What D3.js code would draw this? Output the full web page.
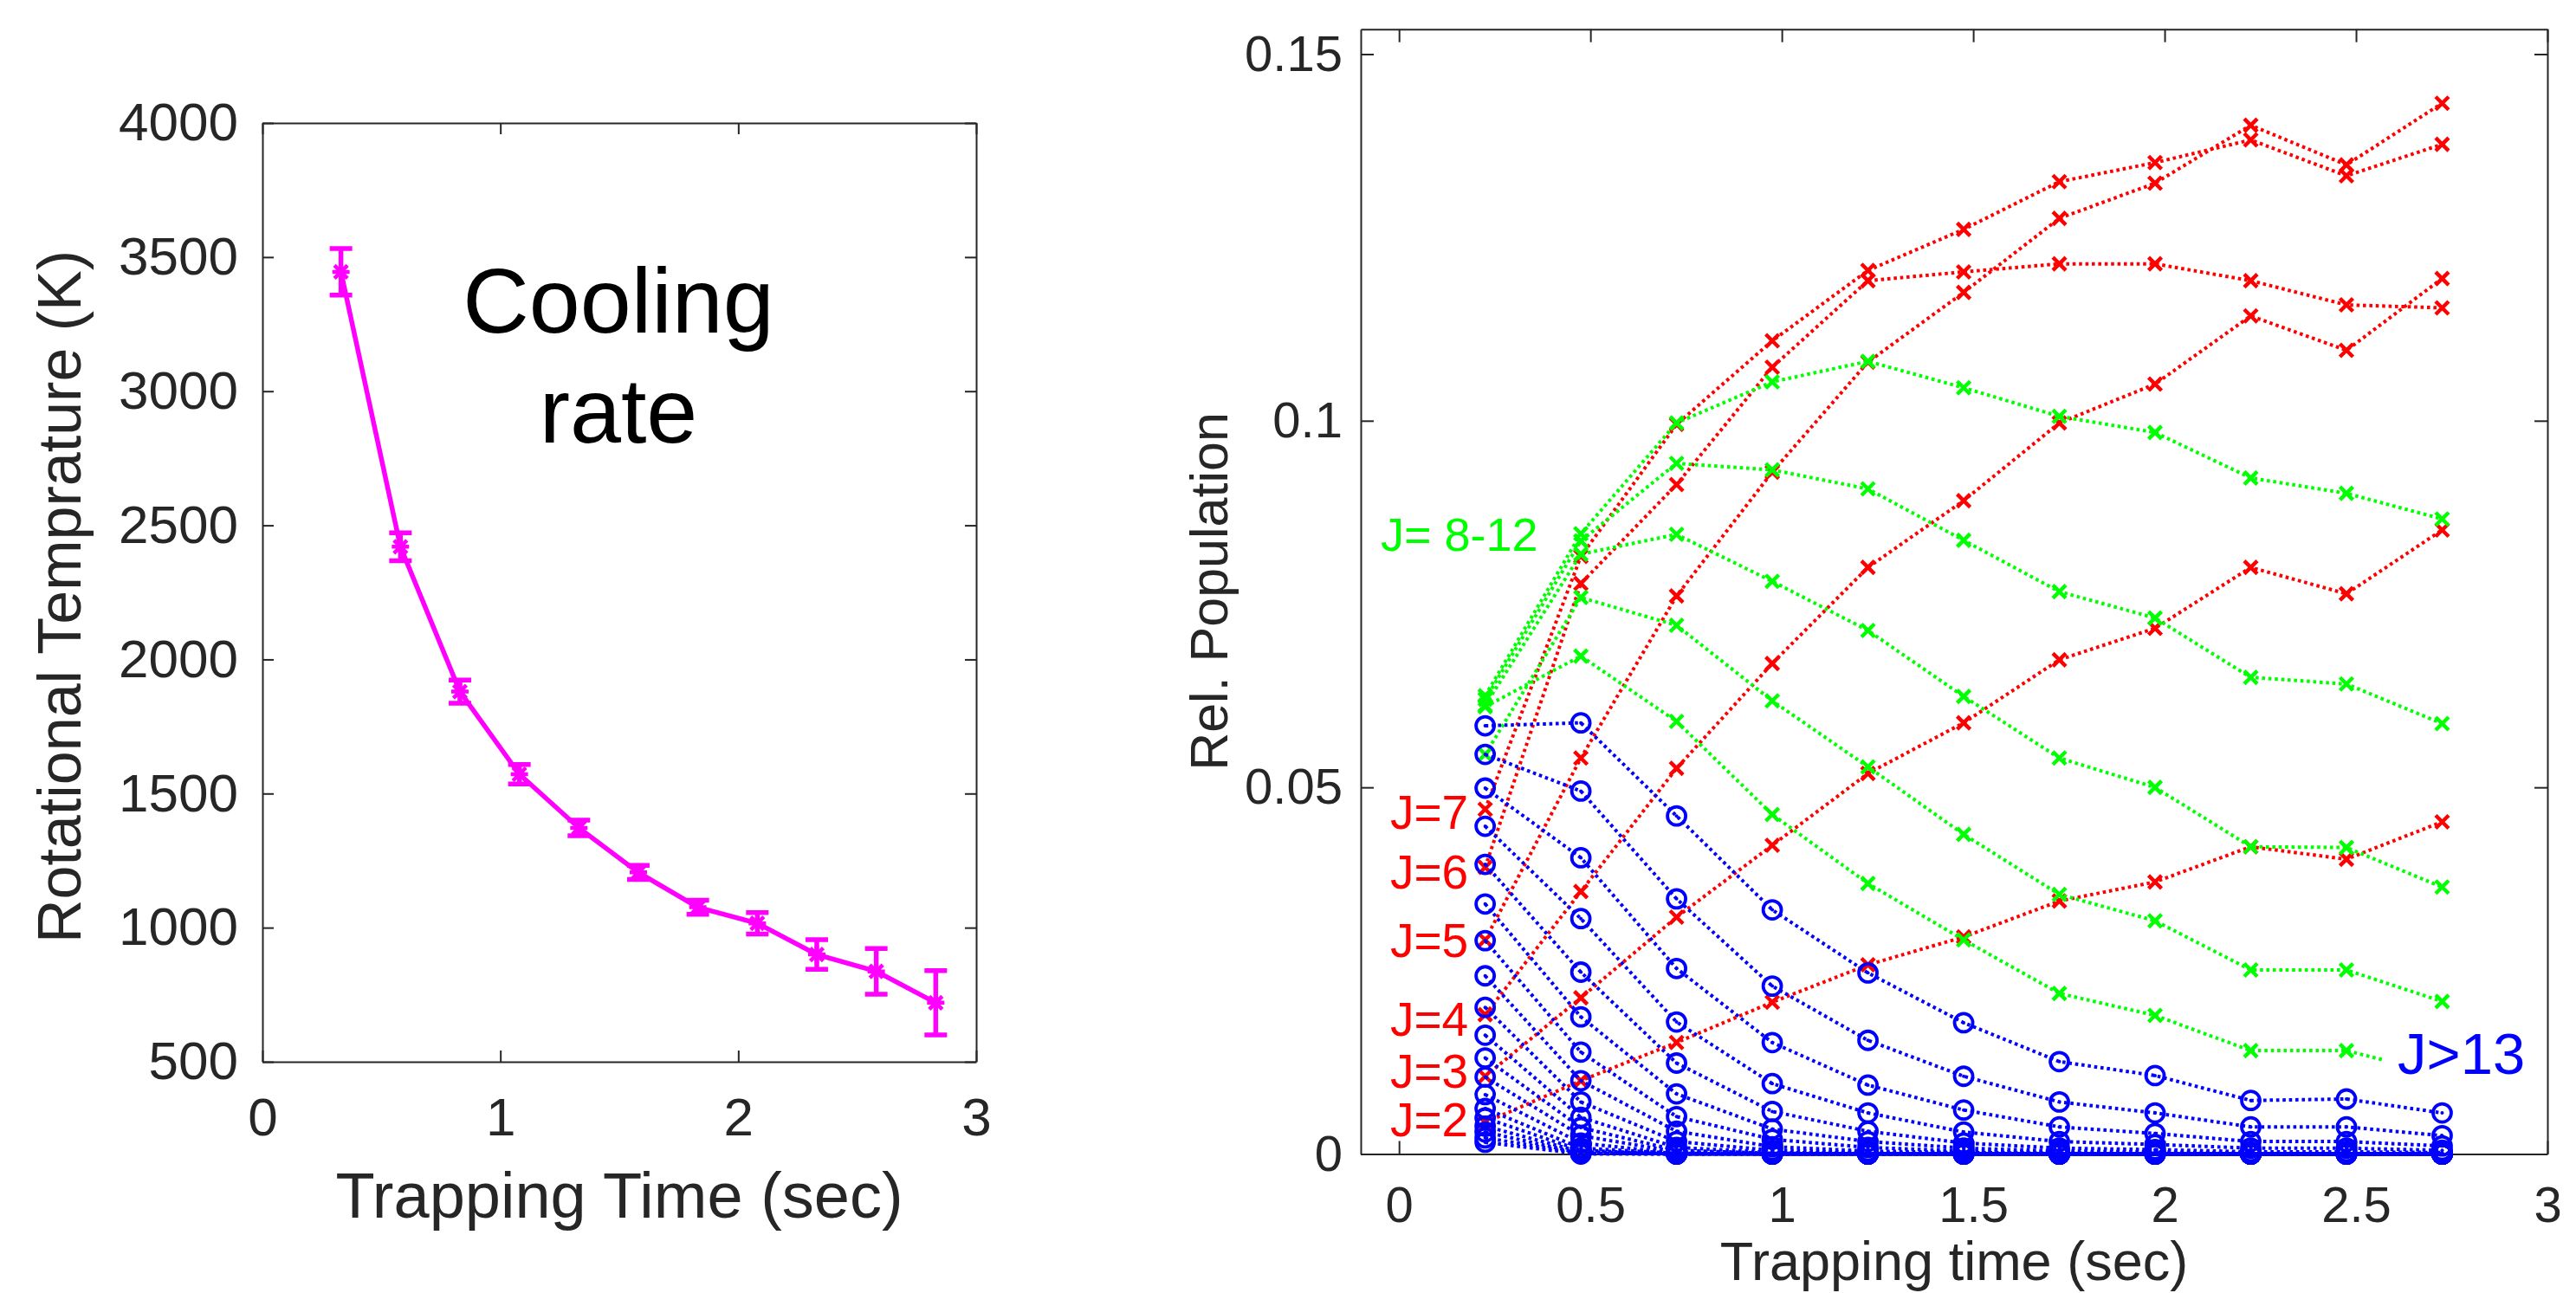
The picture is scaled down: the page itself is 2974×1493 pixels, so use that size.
<!doctype html>
<html>
    <head>
        <script src="https://d3js.org/d3.v7.min.js"></script>
        <style>
            body,
            html {
                margin: 0;
                padding: 0;
                overflow: hidden;
                background: #fff;
            }
        </style>
    </head>
    <body>
        <script>
            // ---- left panel: cooling rate ----
            const tempTime = [0.33, 0.58, 0.83, 1.08, 1.33, 1.58, 1.83, 2.08, 2.33, 2.58, 2.83];
            const tempValues = [3445, 2420, 1880, 1572, 1372, 1206, 1076, 1016, 900, 837, 720];
            const tempErrors = [87, 52, 43, 36, 29, 26, 26, 40, 55, 85, 120];
            const tempXTicks = [0, 1, 2, 3];
            const tempYTicks = [500, 1000, 1500, 2000, 2500, 3000, 3500, 4000];

            // ---- right panel: relative population ----
            const popTime = [0.225, 0.475, 0.725, 0.975, 1.225, 1.475, 1.725, 1.975, 2.225, 2.475, 2.725];
            const popXTicks = [0, 0.5, 1, 1.5, 2, 2.5, 3];
            const popYTicks = [0, 0.05, 0.1, 0.15];

            // red: J=2 ... J=7
            const redLabels = ["J=2", "J=3", "J=4", "J=5", "J=6", "J=7"];
            const redSeries = [
                [0.0043, 0.0100, 0.0152, 0.0207, 0.0258, 0.0296, 0.0345, 0.0371, 0.0419, 0.0402, 0.0453],
                [0.0106, 0.0213, 0.0323, 0.0421, 0.0519, 0.0588, 0.0674, 0.0717, 0.0800, 0.0764, 0.0851],
                [0.0190, 0.0358, 0.0526, 0.0669, 0.0800, 0.0891, 0.0997, 0.1050, 0.1143, 0.1096, 0.1194],
                [0.0292, 0.0540, 0.0761, 0.0930, 0.1080, 0.1175, 0.1276, 0.1324, 0.1403, 0.1349, 0.1433],
                [0.0391, 0.0778, 0.0913, 0.1073, 0.1191, 0.1203, 0.1214, 0.1214, 0.1191, 0.1158, 0.1154],
                [0.0470, 0.0815, 0.0995, 0.1109, 0.1205, 0.1261, 0.1326, 0.1352, 0.1383, 0.1334, 0.1377],
            ];
            // green: J=8 ... J=12
            const greenSeries = [
                [0.0625, 0.0846, 0.0997, 0.1053, 0.1081, 0.1045, 0.1006, 0.0984, 0.0922, 0.0901, 0.0866],
                [0.0620, 0.0836, 0.0942, 0.0933, 0.0907, 0.0837, 0.0767, 0.0731, 0.0650, 0.0641, 0.0587],
                [0.0612, 0.0818, 0.0845, 0.0781, 0.0714, 0.0624, 0.0540, 0.0500, 0.0419, 0.0418, 0.0364],
                [0.0545, 0.0759, 0.0721, 0.0618, 0.0528, 0.0436, 0.0354, 0.0318, 0.0251, 0.0251, 0.0208],
                [0.0610, 0.0679, 0.0590, 0.0463, 0.0369, 0.0292, 0.0219, 0.0189, 0.0141, 0.0141, 0.0108],
            ];
            // blue: J>13
            const blueSeries = [
                [0.0584, 0.0588, 0.0461, 0.0333, 0.0247, 0.0179, 0.0126, 0.0107, 0.0073, 0.0075, 0.0056],
                [0.0545, 0.0495, 0.0348, 0.0229, 0.0155, 0.0106, 0.0071, 0.0056, 0.0037, 0.0037, 0.0025],
                [0.0499, 0.0404, 0.0253, 0.0152, 0.0094, 0.0060, 0.0037, 0.0028, 0.0017, 0.0017, 0.0011],
                [0.0447, 0.0321, 0.0180, 0.0096, 0.0056, 0.0030, 0.0017, 0.0013, 0.0008, 0.0008, 0.0005],
                [0.0395, 0.0248, 0.0124, 0.0058, 0.0031, 0.0015, 0.0008, 0.0006, 0.0003, 0.0003, 0.0002],
                [0.0341, 0.0187, 0.0082, 0.0034, 0.0017, 0.0008, 0.0004, 0.0003, 0.0001, 0.0001, 0.0001],
                [0.0291, 0.0139, 0.0051, 0.0020, 0.0009, 0.0004, 0.0002, 0.0001, 0.0000, 0.0000, 0.0000],
                [0.0243, 0.0100, 0.0031, 0.0010, 0.0004, 0.0002, 0.0001, 0.0000, 0.0000, 0.0000, 0.0000],
                [0.0200, 0.0071, 0.0017, 0.0005, 0.0002, 0.0001, 0.0000, 0.0000, 0.0000, 0.0000, 0.0000],
                [0.0162, 0.0050, 0.0009, 0.0002, 0.0001, 0.0000, 0.0000, 0.0000, 0.0000, 0.0000, 0.0000],
                [0.0131, 0.0036, 0.0005, 0.0001, 0.0000, 0.0000, 0.0000, 0.0000, 0.0000, 0.0000, 0.0000],
                [0.0105, 0.0025, 0.0003, 0.0000, 0.0000, 0.0000, 0.0000, 0.0000, 0.0000, 0.0000, 0.0000],
                [0.0081, 0.0015, 0.0001, 0.0000, 0.0000, 0.0000, 0.0000, 0.0000, 0.0000, 0.0000, 0.0000],
                [0.0062, 0.0008, 0.0001, 0.0000, 0.0000, 0.0000, 0.0000, 0.0000, 0.0000, 0.0000, 0.0000],
                [0.0049, 0.0005, 0.0000, 0.0000, 0.0000, 0.0000, 0.0000, 0.0000, 0.0000, 0.0000, 0.0000],
                [0.0038, 0.0003, 0.0000, 0.0000, 0.0000, 0.0000, 0.0000, 0.0000, 0.0000, 0.0000, 0.0000],
                [0.0030, 0.0001, 0.0000, 0.0000, 0.0000, 0.0000, 0.0000, 0.0000, 0.0000, 0.0000, 0.0000],
                [0.0022, 0.0001, 0.0000, 0.0000, 0.0000, 0.0000, 0.0000, 0.0000, 0.0000, 0.0000, 0.0000],
                [0.0016, 0.0000, 0.0000, 0.0000, 0.0000, 0.0000, 0.0000, 0.0000, 0.0000, 0.0000, 0.0000],
            ];

            const width = 2974;
            const height = 1493;
            const font = "'Liberation Sans', Arial, Helvetica, sans-serif";
            const axisColor = "#262626";

            const svg = d3
                .create("svg")
                .attr("width", width)
                .attr("height", height)
                .attr("viewBox", [0, 0, width, height])
                .style("background", "#fff");

            // box with inward ticks on all four sides (matlab style)
            function drawBox(x, y, xTicks, yTicks, xFmt, yFmt, tick, fs, padX, padY) {
                const [left, right] = x.range();
                const [bottom, top] = y.range();
                const g = svg.append("g");
                g.append("g")
                    .attr("transform", `translate(0,${bottom})`)
                    .call(d3.axisBottom(x).tickValues(xTicks).tickFormat(xFmt).tickSizeInner(-tick).tickSizeOuter(0).tickPadding(padX));
                g.append("g")
                    .attr("transform", `translate(0,${top})`)
                    .call(d3.axisTop(x).tickValues(xTicks).tickFormat("").tickSizeInner(-tick).tickSizeOuter(0));
                g.append("g")
                    .attr("transform", `translate(${left},0)`)
                    .call(d3.axisLeft(y).tickValues(yTicks).tickFormat(yFmt).tickSizeInner(-tick).tickSizeOuter(0).tickPadding(padY));
                g.append("g")
                    .attr("transform", `translate(${right},0)`)
                    .call(d3.axisRight(y).tickValues(yTicks).tickFormat("").tickSizeInner(-tick).tickSizeOuter(0));
                g.selectAll(".domain, .tick line")
                    .attr("stroke", axisColor)
                    .attr("stroke-width", 2);
                g.selectAll("text")
                    .attr("fill", axisColor)
                    .attr("font-family", font)
                    .attr("font-size", fs);
                return g;
            }

            function addText(str, x, y, size, color, anchor, rotate) {
                const t = svg
                    .append("text")
                    .attr("font-family", font)
                    .attr("font-size", size)
                    .attr("fill", color)
                    .attr("text-anchor", anchor || "start")
                    .text(str);
                if (rotate) t.attr("transform", `translate(${x},${y}) rotate(${rotate})`);
                else t.attr("x", x).attr("y", y);
                return t;
            }

            // ================= left panel =================
            const xL = d3.scaleLinear().domain([0, 3]).range([303, 1127]);
            const yL = d3.scaleLinear().domain([500, 4000]).range([1226, 142]);

            drawBox(xL, yL, tempXTicks, tempYTicks, d3.format("d"), d3.format("d"), 13, 62, 41, 28);

            const magenta = "#ff00ff";
            const tempData = tempTime.map((t, i) => ({ t, v: tempValues[i], e: tempErrors[i] }));

            svg.append("path")
                .attr("d", d3.line().x((d) => xL(d.t)).y((d) => yL(d.v))(tempData))
                .attr("fill", "none")
                .attr("stroke", magenta)
                .attr("stroke-width", 5.5);

            const bars = svg.append("g").attr("stroke", magenta).attr("stroke-width", 5.5);
            bars.selectAll("line.bar")
                .data(tempData)
                .join("line")
                .attr("x1", (d) => xL(d.t))
                .attr("x2", (d) => xL(d.t))
                .attr("y1", (d) => yL(d.v - d.e))
                .attr("y2", (d) => yL(d.v + d.e));
            bars.selectAll("path.cap")
                .data(tempData)
                .join("path")
                .attr("d", (d) => {
                    const cx = xL(d.t);
                    return `M${cx - 13},${yL(d.v + d.e)}H${cx + 13}M${cx - 13},${yL(d.v - d.e)}H${cx + 13}`;
                });
            svg.append("g")
                .attr("stroke", magenta)
                .attr("stroke-width", 4.5)
                .attr("fill", "none")
                .selectAll("path")
                .data(tempData)
                .join("path")
                .attr("transform", (d) => `translate(${xL(d.t)},${yL(d.v)})`)
                .attr("d", "M-10,0H10M0,-10V10M-7.5,-7.5L7.5,7.5M-7.5,7.5L7.5,-7.5");

            addText("Cooling", 714, 384, 106, "#000", "middle");
            addText("rate", 714, 511, 106, "#000", "middle");
            addText("Trapping Time (sec)", 715, 1406, 74, axisColor, "middle");
            addText("Rotational Temprature (K)", 93, 689, 70, axisColor, "middle", -90);

            // ================= right panel =================
            const xR = d3.scaleLinear().domain([-0.1, 3]).range([1571, 2941]);
            const yR = d3.scaleLinear().domain([0, 0.1534]).range([1332.5, 33.7]);

            drawBox(xR, yR, popXTicks, popYTicks, (d) => String(d), (d) => String(d), 15, 58, 37, 21);

            const popLine = d3
                .line()
                .x((d, i) => xR(popTime[i]))
                .y((d) => yR(d));

            function drawSeries(values, color, marker) {
                const g = svg.append("g");
                g.append("path")
                    .attr("d", popLine(values))
                    .attr("fill", "none")
                    .attr("stroke", color)
                    .attr("stroke-width", 4)
                    .attr("stroke-dasharray", "3.6 3.8");
                const m = g
                    .selectAll("g")
                    .data(values)
                    .join("g")
                    .attr("transform", (d, i) => `translate(${xR(popTime[i])},${yR(d)})`);
                if (marker === "x") {
                    m.append("path")
                        .attr("d", "M-7.5,-7.5L7.5,7.5M-7.5,7.5L7.5,-7.5")
                        .attr("stroke", color)
                        .attr("stroke-width", 4.4)
                        .attr("fill", "none");
                } else {
                    m.append("circle")
                        .attr("r", 10.5)
                        .attr("fill", "none")
                        .attr("stroke", color)
                        .attr("stroke-width", 3.8);
                    m.append("circle").attr("r", 2).attr("fill", color);
                }
            }

            redSeries.forEach((s) => drawSeries(s, "#ff0000", "x"));
            greenSeries.forEach((s) => drawSeries(s, "#00ff00", "x"));
            blueSeries.forEach((s) => drawSeries(s, "#0000ff", "o"));

            // labels
            const redLabelY = [1312, 1256, 1196, 1105, 1026, 957];
            redLabels.forEach((l, i) => addText(l, 1605, redLabelY[i], 55, "#ff0000"));
            addText("J= 8-12", 1594, 636, 54, "#00ff00");
            svg.append("rect")
                .attr("x", 2752)
                .attr("y", 1182)
                .attr("width", 172)
                .attr("height", 70)
                .attr("fill", "#fff");
            addText("J>13", 2768, 1240, 67, "#0000ff");

            addText("Rel. Population", 1417, 683, 61, axisColor, "middle", -90);
            addText("Trapping time (sec)", 2256, 1478, 63, axisColor, "middle");

            document.body.appendChild(svg.node());
        </script>
    </body>
</html>
